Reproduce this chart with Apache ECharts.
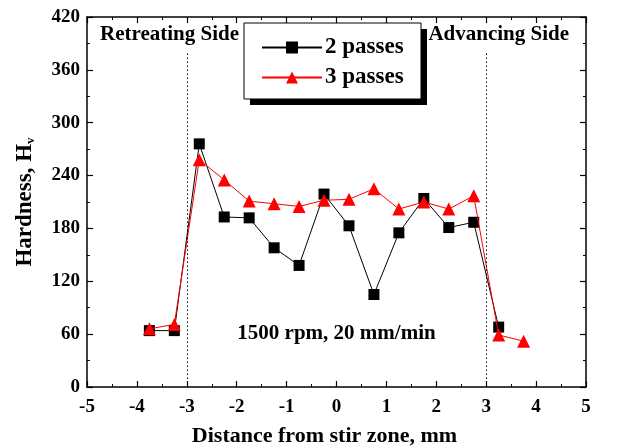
<!DOCTYPE html>
<html>
<head>
<meta charset="utf-8">
<script src="https://cdn.jsdelivr.net/npm/echarts@6/dist/echarts.min.js"></script>
<style>
	html, body { margin: 0; padding: 0; background: #fff; }
	#chart { width: 620px; height: 447px; }
</style>
</head>
<body>
<div id="chart"></div>
<script>
	// distance from stir zone, mm
	const distance2 = [-3.75, -3.25, -2.75, -2.25, -1.75, -1.25, -0.75, -0.25, 0.25, 0.75, 1.25, 1.75, 2.25, 2.75, 3.25];
	const hardness2 = [64, 64, 276, 193, 192, 158, 138, 219, 183, 105, 175, 214, 181, 187, 68];
	const distance3 = [-3.75, -3.25, -2.75, -2.25, -1.75, -1.25, -0.75, -0.25, 0.25, 0.75, 1.25, 1.75, 2.25, 2.75, 3.25, 3.75];
	const hardness3 = [66, 71, 258, 235, 211, 208, 205, 212, 213, 225, 202, 210, 202, 217, 59, 52];
	const zoneEdges = [-3, 3];
	const seriesNames = ['2 passes', '3 passes'];

	const font = 'Liberation Serif';
	const toPairs = function(xs, ys) {
		return xs.map(function(x, i) { return [x, ys[i]]; });
	};

	const chart = echarts.init(document.getElementById('chart'), null, { renderer: 'canvas' });

	const axisLine = { show: true, onZero: false, lineStyle: { color: '#000', width: 1.5 } };
	const tick = { show: true, inside: true, length: 6, lineStyle: { color: '#000', width: 1.2 } };
	const minor = { show: true, splitNumber: 2, length: 3, lineStyle: { color: '#000', width: 1 } };

	let option = {
		animation: false,
		backgroundColor: '#fff',
		grid: { left: 87, right: 34, top: 17, bottom: 60, outerBoundsMode: 'none', containLabel: false },
		legend: {
			orient: 'vertical',
			left: 244,
			top: 23,
			data: seriesNames,
			itemWidth: 60,
			itemHeight: 15,
			itemGap: 7,
			padding: [13, 10, 10, 17],
			textStyle: { fontFamily: font, fontWeight: 'bold', fontSize: 23, color: '#000', padding: [0, 0, 0, -2] },
			z: 10
		},
		xAxis: [{
			type: 'value',
			min: -5, max: 5, interval: 1,
			name: 'Distance from stir zone, mm',
			nameLocation: 'middle',
			nameGap: 38,
			nameTextStyle: { fontFamily: font, fontWeight: 'bold', fontSize: 22, color: '#000', padding: [0, 24, 0, 0] },
			axisLine: axisLine,
			axisTick: tick,
			minorTick: minor,
			splitLine: { show: false },
			axisLabel: { fontFamily: font, fontWeight: 'bold', fontSize: 19, color: '#000', margin: 11 }
		}, {
			type: 'value',
			position: 'top',
			min: -5, max: 5, interval: 1,
			axisLine: axisLine,
			axisTick: tick,
			minorTick: minor,
			splitLine: { show: false },
			axisLabel: { show: false }
		}],
		yAxis: [{
			type: 'value',
			min: 0, max: 420, interval: 60,
			name: 'Hardness, H{sub|v}',
			nameLocation: 'middle',
			nameGap: 50,
			nameRotate: 90,
			nameTextStyle: {
				fontFamily: font, fontWeight: 'bold', fontSize: 23, color: '#000',
				rich: { sub: { fontFamily: font, fontWeight: 'bold', fontSize: 13, verticalAlign: 'bottom', padding: [10, 0, 0, 0] } }
			},
			axisLine: axisLine,
			axisTick: tick,
			minorTick: minor,
			splitLine: { show: false },
			axisLabel: { fontFamily: font, fontWeight: 'bold', fontSize: 19, color: '#000', margin: 7 }
		}, {
			type: 'value',
			position: 'right',
			min: 0, max: 420, interval: 60,
			axisLine: axisLine,
			axisTick: tick,
			minorTick: minor,
			splitLine: { show: false },
			axisLabel: { show: false }
		}],
		series: [{
			name: seriesNames[0],
			type: 'line',
			data: toPairs(distance2, hardness2),
			symbol: 'rect',
			symbolSize: 11,
			itemStyle: { color: '#000' },
			lineStyle: { color: '#000', width: 1 },
			markLine: {
				silent: true,
				symbol: 'none',
				label: { show: false },
				lineStyle: { color: '#000', type: [1.5, 2.5], width: 1 },
				data: zoneEdges.map(function(x) { return [{ coord: [x, 0] }, { coord: [x, 379] }]; })
			},
			z: 2
		}, {
			name: seriesNames[1],
			type: 'line',
			data: toPairs(distance3, hardness3),
			symbol: 'triangle',
			symbolSize: 13,
			itemStyle: { color: '#f00' },
			lineStyle: { color: '#f00', width: 1 },
			z: 3
		}]
	};
	chart.setOption(option);

	// text annotations placed through the axis scales
	const labelStyle = { fontFamily: font, fontWeight: 'bold', fontSize: 21, fill: '#000' };
	const p1 = chart.convertToPixel({ xAxisIndex: 0, yAxisIndex: 0 }, [-4.74, 400]);
	const p2 = chart.convertToPixel({ xAxisIndex: 0, yAxisIndex: 0 }, [4.66, 400]);
	const p3 = chart.convertToPixel({ xAxisIndex: 0, yAxisIndex: 0 }, [0, 61]);
	chart.setOption({
		graphic: [
			// legend frame with a solid drop shadow
			{ type: 'rect', shape: { x: 250, y: 29, width: 177, height: 76 }, style: { fill: '#000' }, z: 5 },
			{ type: 'rect', shape: { x: 244, y: 23, width: 177, height: 76 }, style: { fill: '#fff', stroke: '#000', lineWidth: 1 }, z: 6 },
			{ type: 'text', x: p1[0], y: p1[1], style: Object.assign({ text: 'Retreating Side', align: 'left', verticalAlign: 'middle' }, labelStyle) },
			{ type: 'text', x: p2[0], y: p2[1], style: Object.assign({ text: 'Advancing Side', align: 'right', verticalAlign: 'middle' }, labelStyle) },
			{ type: 'text', x: p3[0], y: p3[1], style: Object.assign({ text: '1500 rpm, 20 mm/min', align: 'center', verticalAlign: 'middle' }, labelStyle) }
		]
	});
</script>
</body>
</html>
